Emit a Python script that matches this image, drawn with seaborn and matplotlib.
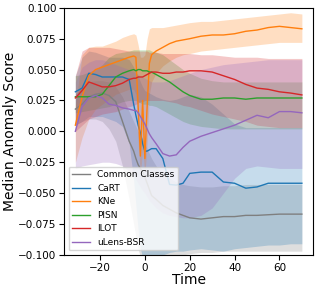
# median anomaly score vs time, per class, with percentile bands

import matplotlib
matplotlib.use("Agg")
import matplotlib.pyplot as plt
import seaborn as sns
import pandas as pd

# ------------------------------------------------------------
# DATA
# ------------------------------------------------------------
times = [-31, -28, -25, -22, -19, -16, -13, -10, -7, -5, -4, -3, -2, -1, 0, 1,
         2, 3, 5, 8, 11, 14, 17, 20, 25, 30, 35, 40, 45, 50, 55, 60, 65, 70]

classes = ["Common Classes", "CaRT", "KNe", "PISN", "ILOT", "uLens-BSR"]
colors = ["#7f7f7f", "#1f77b4", "#ff7f0e", "#2ca02c", "#d62728", "#9467bd"]

common_med = [0.018, 0.022, 0.028, 0.030, 0.031, 0.029, 0.024, 0.008, -0.008, -0.016, -0.022, -0.027,
              -0.030, -0.033, -0.037, -0.042, -0.047, -0.052, -0.055, -0.060, -0.063, -0.066, -0.068,
              -0.070, -0.071, -0.070, -0.069, -0.069, -0.068, -0.068, -0.0675, -0.067, -0.067, -0.067]
common_lo = [0.005, 0.008, 0.010, 0.010, 0.008, 0.002, -0.008, -0.028, -0.055, -0.075, -0.085, -0.095,
             -0.102, -0.105, -0.105, -0.105, -0.105, -0.105, -0.105, -0.105, -0.104, -0.102, -0.100,
             -0.099, -0.098, -0.098, -0.097, -0.097, -0.097, -0.097, -0.097, -0.097, -0.097, -0.097]
common_hi = [0.030, 0.036, 0.040, 0.041, 0.041, 0.040, 0.036, 0.028, 0.016, 0.008, 0.004, 0.000,
             -0.003, -0.006, -0.010, -0.014, -0.018, -0.022, -0.028, -0.034, -0.038, -0.041, -0.043,
             -0.044, -0.045, -0.045, -0.044, -0.044, -0.043, -0.043, -0.043, -0.043, -0.043, -0.043]

cart_med = [0.032, 0.035, 0.047, 0.046, 0.044, 0.044, 0.044, 0.044, 0.042, 0.022, 0.013, 0.005,
            -0.001, -0.010, -0.016, -0.016, -0.015, -0.014, -0.014, -0.022, -0.043, -0.0435, -0.042,
            -0.034, -0.033, -0.033, -0.041, -0.042, -0.046, -0.045, -0.042, -0.042, -0.042, -0.042]
cart_lo = [0.005, 0.008, 0.012, 0.012, 0.012, 0.010, 0.008, 0.004, -0.010, -0.040, -0.060, -0.080,
           -0.095, -0.102, -0.105, -0.105, -0.105, -0.104, -0.103, -0.100, -0.098, -0.097, -0.097,
           -0.096, -0.095, -0.096, -0.097, -0.095, -0.094, -0.093, -0.092, -0.092, -0.091, -0.091]
cart_hi = [0.045, 0.060, 0.065, 0.064, 0.062, 0.060, 0.060, 0.060, 0.058, 0.052, 0.048, 0.045,
           0.040, 0.036, 0.033, 0.032, 0.031, 0.030, 0.028, 0.026, 0.025, 0.026, 0.028,
           0.030, 0.028, 0.022, 0.014, 0.006, 0.003, 0.003, 0.003, 0.003, 0.003, 0.003]

kne_med = [0.005, 0.028, 0.045, 0.050, 0.052, 0.054, 0.056, 0.058, 0.060, 0.061, 0.060, 0.020,
           -0.020, 0.025, -0.022, 0.020, 0.055, 0.062, 0.065, 0.068, 0.071, 0.073, 0.074,
           0.075, 0.077, 0.078, 0.078, 0.079, 0.081, 0.082, 0.084, 0.085, 0.084, 0.083]
kne_lo = [-0.025, -0.005, 0.010, 0.018, 0.022, 0.026, 0.030, 0.032, 0.034, 0.034, 0.030, -0.010,
          -0.035, -0.015, -0.035, -0.010, 0.030, 0.040, 0.047, 0.053, 0.057, 0.060, 0.062,
          0.063, 0.065, 0.066, 0.067, 0.068, 0.069, 0.070, 0.071, 0.072, 0.072, 0.072]
kne_hi = [0.020, 0.062, 0.068, 0.069, 0.069, 0.071, 0.073, 0.076, 0.078, 0.079, 0.078, 0.070,
          0.060, 0.060, 0.062, 0.075, 0.083, 0.084, 0.084, 0.084, 0.085, 0.086, 0.087,
          0.088, 0.089, 0.089, 0.090, 0.091, 0.092, 0.093, 0.094, 0.095, 0.096, 0.095]

pisn_med = [0.028, 0.028, 0.028, 0.028, 0.030, 0.037, 0.044, 0.047, 0.049, 0.050, 0.049, 0.050,
            0.050, 0.049, 0.049, 0.049, 0.048, 0.048, 0.046, 0.043, 0.040, 0.036, 0.032,
            0.029, 0.026, 0.026, 0.027, 0.027, 0.026, 0.027, 0.027, 0.027, 0.027, 0.027]
pisn_lo = [0.015, 0.016, 0.017, 0.018, 0.019, 0.020, 0.022, 0.024, 0.025, 0.025, 0.025, 0.024,
           0.023, 0.022, 0.022, 0.022, 0.021, 0.021, 0.020, 0.017, 0.014, 0.011, 0.008,
           0.006, 0.004, 0.003, 0.002, 0.002, 0.002, 0.002, 0.002, 0.002, 0.002, 0.002]
pisn_hi = [0.045, 0.046, 0.048, 0.050, 0.054, 0.060, 0.063, 0.064, 0.065, 0.066, 0.066, 0.066,
           0.066, 0.066, 0.066, 0.066, 0.066, 0.065, 0.064, 0.062, 0.058, 0.054, 0.050,
           0.047, 0.043, 0.041, 0.040, 0.040, 0.040, 0.040, 0.040, 0.040, 0.040, 0.040]

ilot_med = [0.027, 0.033, 0.040, 0.038, 0.036, 0.036, 0.037, 0.039, 0.042, 0.043, 0.043, 0.044,
            0.044, 0.044, 0.045, 0.046, 0.047, 0.048, 0.048, 0.047, 0.047, 0.048, 0.048,
            0.049, 0.049, 0.048, 0.045, 0.042, 0.038, 0.035, 0.034, 0.032, 0.031, 0.0295]
ilot_lo = [0.000, 0.005, 0.010, 0.012, 0.014, 0.015, 0.016, 0.018, 0.020, 0.021, 0.022, 0.023,
           0.024, 0.024, 0.025, 0.025, 0.025, 0.025, 0.025, 0.025, 0.024, 0.023, 0.021,
           0.020, 0.017, 0.014, 0.012, 0.010, 0.008, 0.005, 0.004, 0.003, 0.003, 0.003]
ilot_hi = [0.045, 0.065, 0.068, 0.068, 0.068, 0.068, 0.067, 0.066, 0.065, 0.065, 0.065, 0.065,
           0.065, 0.065, 0.065, 0.065, 0.064, 0.064, 0.064, 0.063, 0.063, 0.063, 0.063,
           0.063, 0.062, 0.062, 0.061, 0.060, 0.060, 0.060, 0.059, 0.059, 0.059, 0.059]

ulens_med = [0.000, 0.020, 0.027, 0.029, 0.027, 0.022, 0.021, 0.019, 0.018, 0.017, 0.017, 0.015,
             0.012, 0.009, 0.006, 0.002, -0.002, -0.005, -0.010, -0.018, -0.020, -0.019, -0.013,
             -0.008, -0.004, -0.001, 0.002, 0.005, 0.009, 0.013, 0.011, 0.016, 0.016, 0.015]
ulens_lo = [-0.030, -0.028, -0.027, -0.026, -0.025, -0.025, -0.026, -0.028, -0.032, -0.036, -0.039, -0.042,
            -0.045, -0.048, -0.050, -0.053, -0.056, -0.058, -0.062, -0.066, -0.068, -0.069, -0.070,
            -0.070, -0.068, -0.062, -0.050, -0.038, -0.030, -0.028, -0.029, -0.030, -0.030, -0.030]
ulens_hi = [0.040, 0.052, 0.056, 0.058, 0.058, 0.056, 0.054, 0.052, 0.050, 0.048, 0.047, 0.046,
            0.045, 0.044, 0.043, 0.042, 0.041, 0.040, 0.040, 0.040, 0.041, 0.043, 0.045,
            0.047, 0.050, 0.052, 0.054, 0.055, 0.056, 0.057, 0.058, 0.058, 0.058, 0.058]

medians = [common_med, cart_med, kne_med, pisn_med, ilot_med, ulens_med]
lowers = [common_lo, cart_lo, kne_lo, pisn_lo, ilot_lo, ulens_lo]
uppers = [common_hi, cart_hi, kne_hi, pisn_hi, ilot_hi, ulens_hi]

# ------------------------------------------------------------
# PLOT
# ------------------------------------------------------------
fig = plt.figure(figsize=(3.17, 2.89), dpi=100)
ax = fig.add_axes([0.202, 0.118, 0.786, 0.855])

for name, col, med, lo, hi in zip(classes, colors, medians, lowers, uppers):
    df = pd.DataFrame({"Time": times, "score": med})
    sns.lineplot(data=df, x="Time", y="score", color=col, label=name,
                 linewidth=1.0, ax=ax)
    ax.fill_between(times, lo, hi, color=col, alpha=0.25, linewidth=0)

ax.set_ylim(-0.1, 0.1)
ax.set_xlabel("Time", fontsize=10, labelpad=0)
ax.set_ylabel("Median Anomaly Score", fontsize=10, labelpad=1)
ax.tick_params(labelsize=7.5, pad=2)
ax.legend(loc="lower left", fontsize=6.5)

fig.savefig("out.png", dpi=100)
